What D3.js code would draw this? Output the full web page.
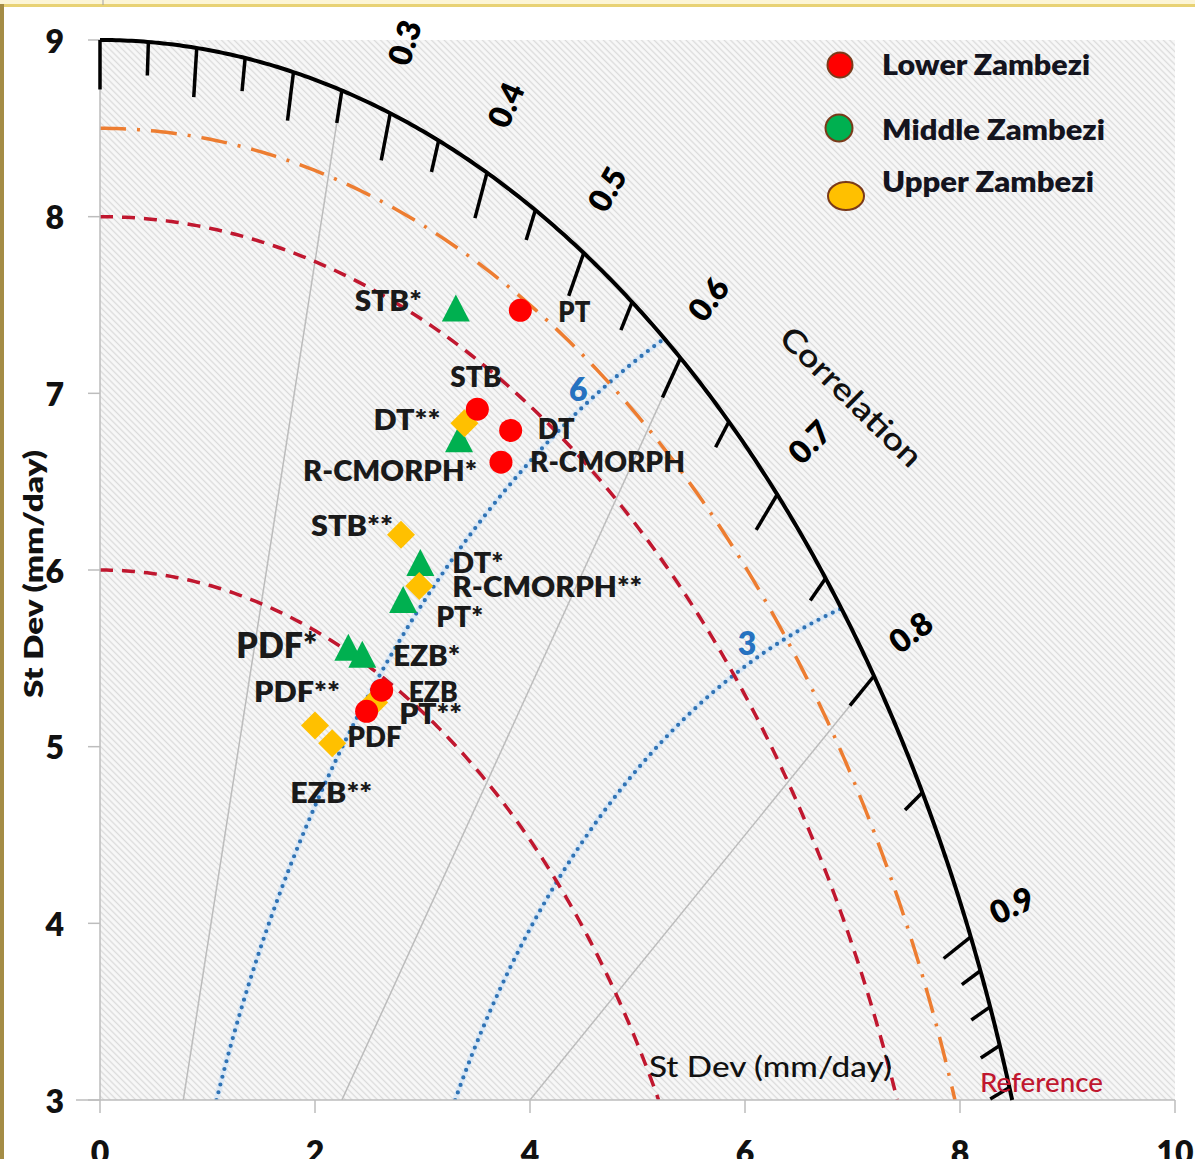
<!DOCTYPE html>
<html><head><meta charset="utf-8">
<script src="https://cdn.jsdelivr.net/npm/d3@7"></script>
<style>
body{margin:0;background:#fff;}
svg{display:block;}
text{font-family:Lato,"Open Sans","Noto Sans",sans-serif;}
</style>
</head><body>
<script>
// ---------------- data ----------------
const lowerNames  = ["PT","STB","DT","R-CMORPH","EZB","PDF"];
const lowerX      = [3.91,3.51,3.82,3.73,2.62,2.48];
const lowerY      = [7.47,6.91,6.79,6.61,5.32,5.20];
const middleNames = ["STB*","R-CMORPH*","DT*","PT*","PDF*","EZB*"];
const middleX     = [3.31,3.34,2.98,2.82,2.31,2.44];
const middleY     = [7.48,6.74,6.04,5.83,5.56,5.52];
const upperNames  = ["DT**","STB**","R-CMORPH**","PT**","PDF**","EZB**"];
const upperX      = [3.39,2.80,2.97,2.55,2.00,2.16];
const upperY      = [6.83,6.20,5.91,5.25,5.12,5.02];
const legendLabels = ["Lower Zambezi","Middle Zambezi","Upper Zambezi"];
const xTicks = [0,2,4,6,8,10];
const yTicks = [3,4,5,6,7,8,9];
const corrLabels = [0.3,0.4,0.5,0.6,0.7,0.8,0.9];
const corrMajor = [0,0.1,0.2,0.3,0.4,0.5,0.6,0.7,0.8,0.9];
const corrMinor = [0.05,0.15,0.25,0.35,0.45,0.55,0.65,0.75,0.85,0.91,0.92,0.93,0.94];
const corrGrid = [0.25,0.6,0.8];
const stdArcs = [6,8];
const refStd = 8.5;
const maxStd = 9;
const rmsRadii = [6,8];
const rmsLabels = ["3","6"];

// ---------------- layout ----------------
const W = 1195, H = 1159;
const x = d3.scaleLinear().domain([0,10]).range([100,1175]);
const y = d3.scaleLinear().domain([3,9]).range([1100,40]);
const yMin = 3;

// label offsets (px) relative to marker centre: [dx, dy]
const labelOffsets = {
  "PT":[38,12],"STB":[-27,-22],"DT":[27,9],"R-CMORPH":[29,10],"EZB":[27,12],"PDF":[-19,36],
  "STB*":[-101,2],"R-CMORPH*":[-156,42],"DT*":[32,10],"PT*":[33,27],"PDF*":[-112,10],"EZB*":[31,11],
  "DT**":[-91,7],"STB**":[-90,1],"R-CMORPH**":[33,11],"PT**":[25,21],"PDF**":[-61,-23],"EZB**":[-42,60]
};
const labelWidths = {
  "PT":32,"STB":51,"DT":37,"R-CMORPH":155,"EZB":49,"PDF":54,
  "STB*":67,"R-CMORPH*":174,"DT*":51,"PT*":47,"PDF*":81,"EZB*":67,
  "DT**":67,"STB**":82,"R-CMORPH**":190,"PT**":63,"PDF**":86,"EZB**":82
};
const rmsLabelAt = [[6.02,5.59],[4.45,7.03]];

const svg = d3.select("body").append("svg").attr("width",W).attr("height",H);
const defs = svg.append("defs");
const pat = defs.append("pattern").attr("id","hatch").attr("patternUnits","userSpaceOnUse")
  .attr("width",4.5).attr("height",4.5).attr("patternTransform","rotate(45)");
pat.append("rect").attr("width",4.5).attr("height",4.5).attr("fill","#f8f8f8");
pat.append("line").attr("x1",0).attr("y1",2.25).attr("x2",4.5).attr("y2",2.25)
  .attr("stroke","#dadada").attr("stroke-width",1.3);
defs.append("clipPath").attr("id","plotclip").append("rect")
  .attr("x",100).attr("y",40).attr("width",1075).attr("height",1060);

// frame decorations
svg.append("rect").attr("x",0).attr("y",0).attr("width",W).attr("height",5).attr("fill","#fcf5d6");
svg.append("rect").attr("x",0).attr("y",4).attr("width",W).attr("height",3).attr("fill","#e8d274");
svg.append("line").attr("x1",103).attr("y1",0).attr("x2",103).attr("y2",5).attr("stroke","#a0a0a0");
svg.append("rect").attr("x",0).attr("y",4).attr("width",4).attr("height",H).attr("fill","#a48c45");

// plot background
svg.append("rect").attr("x",100).attr("y",40).attr("width",1075).attr("height",1060).attr("fill","url(#hatch)");

const line = d3.line().x(d=>x(d[0])).y(d=>y(d[1]));
const plot = svg.append("g").attr("clip-path","url(#plotclip)");

function arcPts(cx, cy, R, a0, a1, n){
  const pts=[];
  for(let i=0;i<=n;i++){const a=a0+(a1-a0)*i/n; pts.push([cx+R*Math.cos(a), cy+R*Math.sin(a)]);}
  return pts;
}

// correlation grid lines (gray)
corrGrid.forEach(c=>{
  const th = Math.acos(c);
  const isMajor = corrMajor.some(m=>Math.abs(m-c)<1e-9);
  const r0 = maxStd - (isMajor?0.28:0.19);
  const r1 = yMin/Math.sin(th);
  plot.append("path").attr("d", line([[r0*Math.cos(th), r0*Math.sin(th)],[r1*Math.cos(th), r1*Math.sin(th)]]))
    .attr("fill","none").attr("stroke","#bcbcbc").attr("stroke-width",1.5);
});

// RMS arcs (blue dotted) centred on reference
rmsRadii.forEach((rho,i)=>{
  const xi = (maxStd*maxStd - rho*rho + refStd*refStd)/(2*refStd);
  const yi = Math.sqrt(maxStd*maxStd - xi*xi);
  const a0 = Math.PI - Math.asin(yMin/rho);
  const a1 = Math.atan2(yi, xi - refStd);
  const pts = arcPts(refStd,0,rho,a0,a1,200);
  plot.append("path").attr("d",line(pts)).attr("fill","none")
    .attr("stroke","#d4e6f7").attr("stroke-width",6).attr("opacity",0.7);
  plot.append("path").attr("d",line(pts)).attr("fill","none")
    .attr("stroke","#2f73b5").attr("stroke-width",4.2).attr("stroke-linecap","round")
    .attr("stroke-dasharray","0 8");
  svg.append("text").attr("x",x(rmsLabelAt[i][0])).attr("y",y(rmsLabelAt[i][1]))
    .attr("text-anchor","middle").attr("dominant-baseline","central")
    .attr("font-size",32).attr("font-weight",800).attr("fill","#2672c0").text(rmsLabels[i]);
});

// std dev arcs (red dashed)
stdArcs.forEach(R=>{
  const pts = arcPts(0,0,R,Math.PI/2,Math.asin(yMin/R),200);
  plot.append("path").attr("d",line(pts)).attr("fill","none")
    .attr("stroke","#c0172f").attr("stroke-width",3.5).attr("stroke-dasharray","13 9");
});
// reference arc (orange dash-dot)
{
  const pts = arcPts(0,0,refStd,Math.PI/2,Math.asin(yMin/refStd),200);
  plot.append("path").attr("d",line(pts)).attr("fill","none")
    .attr("stroke","#ed7d31").attr("stroke-width",3.5).attr("stroke-dasharray","26 11 3 11");
}

// axes
svg.append("line").attr("x1",100).attr("y1",40).attr("x2",100).attr("y2",1100).attr("stroke","#bdbdbd").attr("stroke-width",1.5);
svg.append("line").attr("x1",76).attr("y1",1100).attr("x2",1175).attr("y2",1100).attr("stroke","#bdbdbd").attr("stroke-width",1.5);
yTicks.forEach(v=>{
  svg.append("line").attr("x1",88).attr("x2",100).attr("y1",y(v)).attr("y2",y(v)).attr("stroke","#bdbdbd").attr("stroke-width",1.5);
  svg.append("text").attr("x",64).attr("y",y(v)).attr("text-anchor","end").attr("dominant-baseline","central")
    .attr("font-size",32).attr("font-weight",800).attr("fill","#111").text(v);
});
xTicks.forEach(v=>{
  svg.append("line").attr("x1",x(v)).attr("x2",x(v)).attr("y1",1100).attr("y2",1113).attr("stroke","#bdbdbd").attr("stroke-width",1.5);
  svg.append("text").attr("x",x(v)).attr("y",1164).attr("text-anchor","middle")
    .attr("font-size",32).attr("font-weight",800).attr("fill","#111").text(v);
});

// outer arc
{
  const pts = arcPts(0,0,maxStd,Math.PI/2,Math.asin(yMin/maxStd),300);
  svg.append("path").attr("d",line(pts)).attr("fill","none").attr("stroke","#000").attr("stroke-width",4);
}
// ticks on the outer arc
function tick(c,len){
  const th=Math.acos(c);
  svg.append("path").attr("d",line([[maxStd*Math.cos(th),maxStd*Math.sin(th)],[(maxStd-len)*Math.cos(th),(maxStd-len)*Math.sin(th)]]))
    .attr("stroke","#000").attr("stroke-width",3.5).attr("fill","none");
}
corrMajor.forEach(c=>tick(c,0.28));
corrMinor.forEach(c=>tick(c,0.19));
corrLabels.forEach(c=>{
  const th=Math.acos(c), r=9.42;
  const px=x(r*Math.cos(th)), py=y(r*Math.sin(th));
  svg.append("text").attr("transform",`translate(${px},${py}) rotate(${-th*180/Math.PI})`)
    .attr("text-anchor","middle").attr("dominant-baseline","central")
    .attr("font-size",32).attr("font-weight",800).attr("fill","#000").text(c.toFixed(1));
});
svg.append("text").attr("transform","translate(852,396) rotate(44.5)")
  .attr("text-anchor","middle").attr("dominant-baseline","central")
  .attr("font-size",31).attr("font-weight",600).attr("fill","#111").attr("textLength",185).attr("lengthAdjust","spacingAndGlyphs").text("Correlation");

// axis titles
svg.append("text").attr("transform","translate(32,574) rotate(-90)")
  .attr("text-anchor","middle").attr("dominant-baseline","central")
  .attr("font-size",27).attr("font-weight",800).attr("fill","#111")
  .attr("textLength",248).attr("lengthAdjust","spacingAndGlyphs").text("St Dev (mm/day)");
svg.append("text").attr("x",649).attr("y",1077)
  .attr("font-size",28).attr("font-weight",500).attr("fill","#111")
  .attr("textLength",243).attr("lengthAdjust","spacingAndGlyphs").text("St Dev (mm/day)");
svg.append("text").attr("x",980).attr("y",1092)
  .attr("font-size",26).attr("font-weight",500).attr("fill","#c0172f")
  .attr("textLength",123).attr("lengthAdjust","spacingAndGlyphs").text("Reference");

// markers
const gMid = svg.append("g"), gUp = svg.append("g"), gLow = svg.append("g");
const triPath = "M0,-14L14,13L-14,13Z";
const diaPath = "M0,-14L14,0L0,14L-14,0Z";
middleNames.forEach((n,i)=>{
  gMid.append("path").attr("d",triPath).attr("transform",`translate(${x(middleX[i])},${y(middleY[i])})`).attr("fill","#00b050");
});
upperNames.forEach((n,i)=>{
  gUp.append("path").attr("d",diaPath).attr("transform",`translate(${x(upperX[i])},${y(upperY[i])})`).attr("fill","#ffc000");
});
lowerNames.forEach((n,i)=>{
  gLow.append("circle").attr("cx",x(lowerX[i])).attr("cy",y(lowerY[i])).attr("r",11.5).attr("fill","#ff0000");
});

// point labels
function addLabels(names, xs, ys){
  names.forEach((n,i)=>{
    const o = labelOffsets[n];
    svg.append("text").attr("x",x(xs[i])+o[0]).attr("y",y(ys[i])+o[1])
      .attr("font-size", n==="PDF*"?35:28).attr("font-weight",800).attr("fill","#1a1a1a")
      .attr("textLength",labelWidths[n]).attr("lengthAdjust","spacingAndGlyphs").text(n);
  });
}
addLabels(lowerNames,lowerX,lowerY);
addLabels(middleNames,middleX,middleY);
addLabels(upperNames,upperX,upperY);

// legend
const legY = [65,128,193];
const legendWidths = [208,223,212];
svg.append("circle").attr("cx",840).attr("cy",legY[0]).attr("r",12.5).attr("fill","#ff0000").attr("stroke","#7a3a1a").attr("stroke-width",2);
svg.append("circle").attr("cx",839).attr("cy",legY[1]).attr("r",13.5).attr("fill","#00b050").attr("stroke","#7a3a1a").attr("stroke-width",2);
svg.append("ellipse").attr("cx",846).attr("cy",legY[2]+3).attr("rx",18).attr("ry",14).attr("fill","#ffc000").attr("stroke","#7a3a1a").attr("stroke-width",2);
const legBase = [75,140,192];
legendLabels.forEach((t,i)=>{
  svg.append("text").attr("x",882).attr("y",legBase[i]).attr("font-size",28).attr("font-weight",800)
    .attr("fill","#14141e").attr("textLength",legendWidths[i]).attr("lengthAdjust","spacingAndGlyphs").text(t);
});
</script>
</body></html>
